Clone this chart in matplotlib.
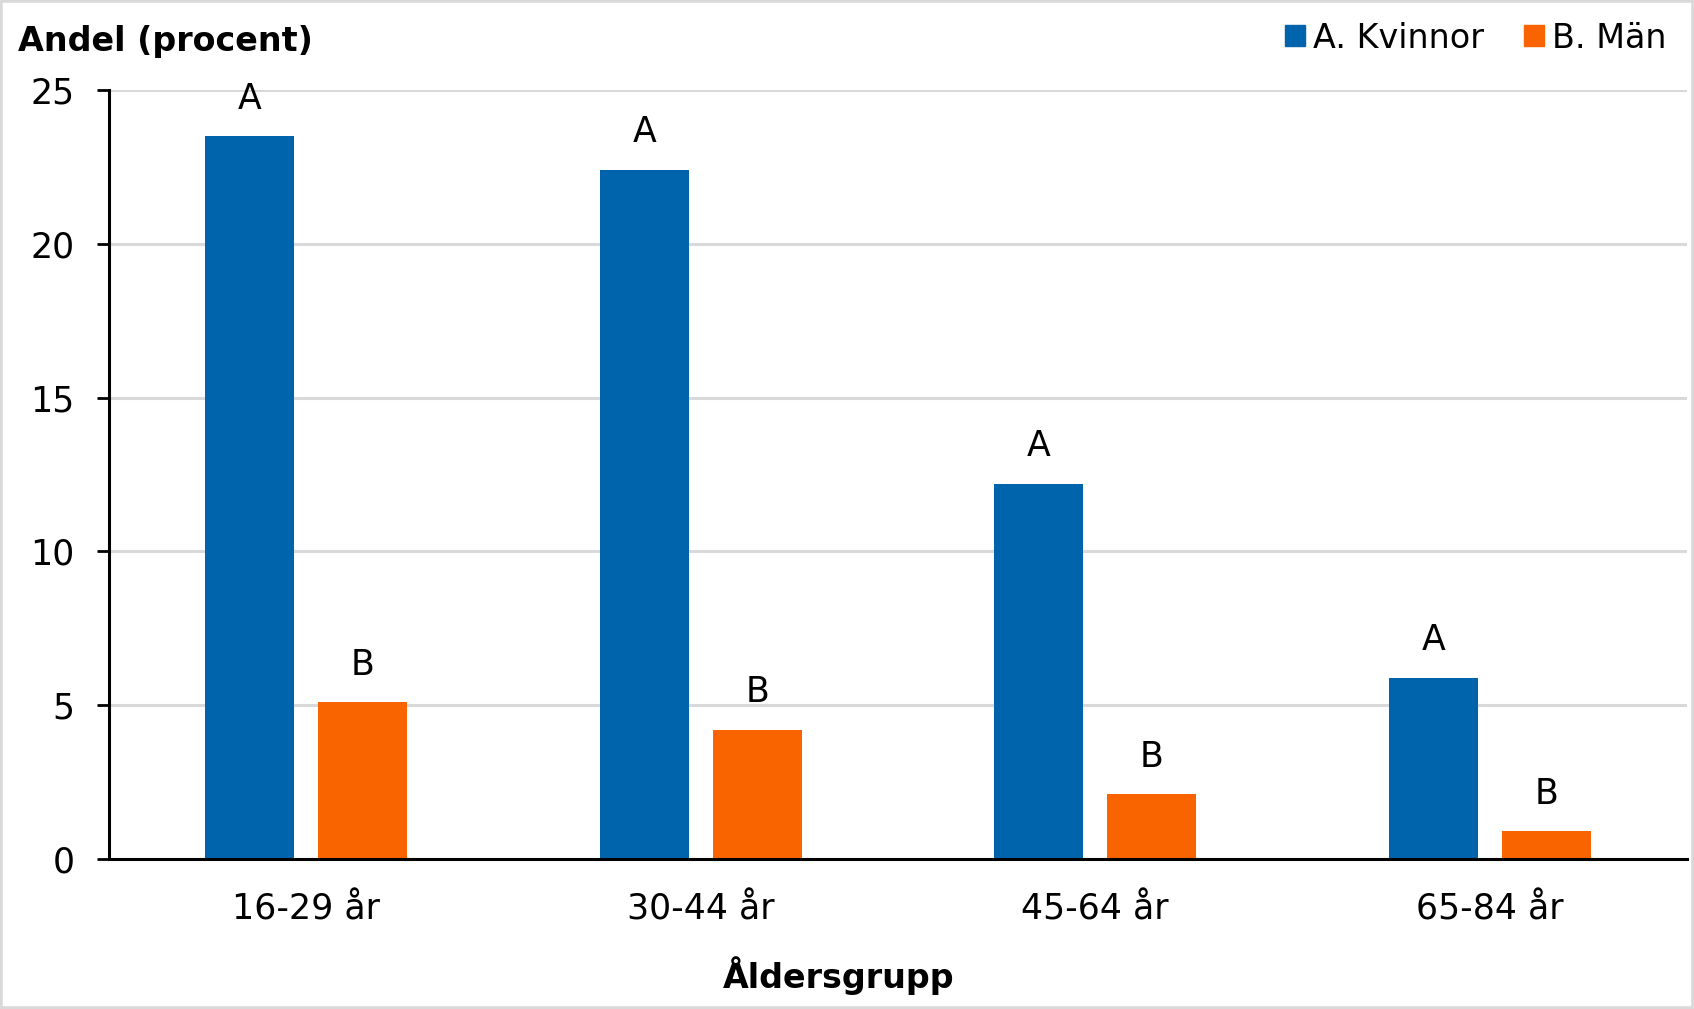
import numpy as np
import matplotlib
matplotlib.use("Agg")
import matplotlib.pyplot as plt
from matplotlib.patches import Patch, Rectangle

# data
groups = ["16-29 år", "30-44 år", "45-64 år", "65-84 år"]
kvinnor = [23.5, 22.4, 12.2, 5.9]
man = [5.1, 4.2, 2.1, 0.9]
series_names = ["A. Kvinnor", "B. Män"]
bar_tags = ["A", "B"]
colors = ["#0064AD", "#FA6400"]

plt.rcParams["font.family"] = ["DejaVu Sans"]

fig = plt.figure(figsize=(16.94, 10.09), dpi=100)
ax = fig.add_axes([109 / 1694, 1 - 859 / 1009, (1687 - 109) / 1694, (859 - 90) / 1009])

x = np.arange(len(groups))
width = 0.225
offset = 0.143

for vals, dx, col, tag in zip([kvinnor, man], [-offset, offset], colors, bar_tags):
    bars = ax.bar(x + dx, vals, width=width, color=col, zorder=3)
    for b in bars:
        ax.annotate(tag, (b.get_x() + b.get_width() / 2, b.get_height()),
                    xytext=(0, 27), textcoords="offset points",
                    ha="center", va="center", fontsize=25)

ax.set_xlim(-0.5, len(groups) - 0.5)
ax.set_ylim(0, 25)
ax.set_yticks([0, 5, 10, 15, 20, 25])
ax.set_xticks(x)
ax.set_xticklabels(groups)
ax.tick_params(axis="y", length=9, width=2, pad=16, labelsize=25)
ax.tick_params(axis="x", length=0, pad=24, labelsize=25)
ax.grid(axis="y", color="#D9D9D9", linewidth=2.2, zorder=0)
ax.set_axisbelow(True)
for s in ["top", "right"]:
    ax.spines[s].set_visible(False)
for s in ["left", "bottom"]:
    ax.spines[s].set_linewidth(2.2)
    ax.spines[s].set_zorder(4)

fig.text(18 / 1694, 1 - 41 / 1009, "Andel (procent)", fontsize=24, fontweight="bold",
         ha="left", va="center")
fig.text(839 / 1694, 1 - 976 / 1009, "Åldersgrupp", fontsize=24, fontweight="bold",
         ha="center", va="center")

handles = [Patch(color=c) for c in colors]
fig.legend(handles, series_names, loc="center right", bbox_to_anchor=(1680 / 1694, 1 - 38 / 1009),
           ncol=2, frameon=False, fontsize=24, handlelength=0.6, handleheight=0.6,
           handletextpad=0.25, columnspacing=1.2, borderaxespad=0)

# grey frame around the figure
fig.patches.append(Rectangle((0, 0), 1, 1, transform=fig.transFigure, fill=False,
                             edgecolor="#D9D9D9", linewidth=4))

fig.savefig("out.png", dpi=100)
